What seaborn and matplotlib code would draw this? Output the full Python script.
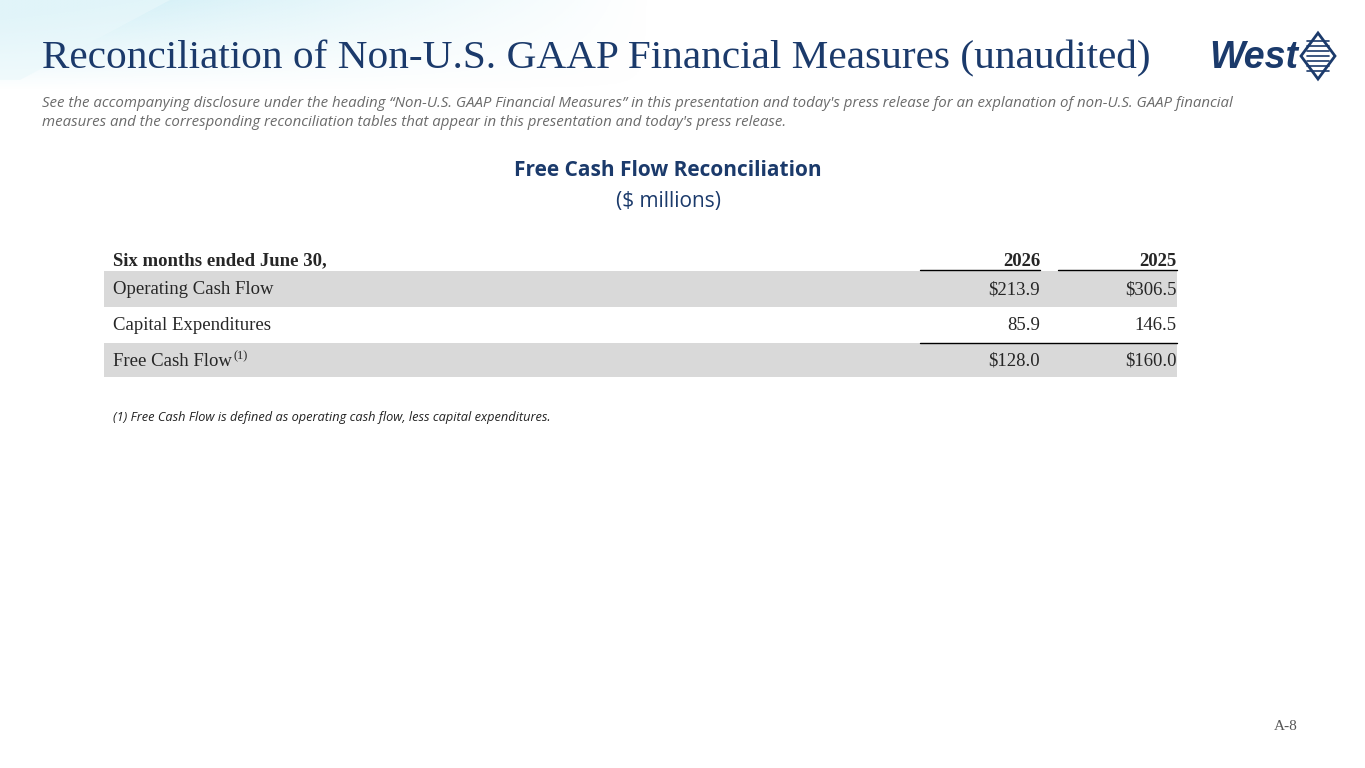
import matplotlib
matplotlib.use("Agg")
import matplotlib.pyplot as plt
import seaborn as sns
import numpy as np
from matplotlib.patches import Rectangle, Polygon

sns.set_theme(style="white")

title = "Reconciliation of Non-U.S. GAAP Financial Measures (unaudited)"
subtitle = ("See the accompanying disclosure under the heading \u201cNon-U.S. GAAP Financial Measures\u201d in this presentation and today's press release for an explanation of non-U.S. GAAP financial\n"
            "measures and the corresponding reconciliation tables that appear in this presentation and today's press release.")
table_title = "Free Cash Flow Reconciliation"
table_unit = "($ millions)"
header_label = "Six months ended June 30,"
years = ["2026", "2025"]
row_labels = ["Operating Cash Flow", "Capital Expenditures", "Free Cash Flow"]
vals_2026 = ["$213.9", "85.9", "$128.0"]
vals_2025 = ["$306.5", "146.5", "$160.0"]
row_shaded = [True, False, True]
footnote = "(1) Free Cash Flow is defined as operating cash flow, less capital expenditures."
page = "A-8"

NAVY = "#1b3a6b"
fig = plt.figure(figsize=(13.65, 7.68), dpi=100)
ax = fig.add_axes([0, 0, 1, 1])
ax.axis("off")

xs = np.linspace(0, 1, 300)
ys = np.linspace(0, 1, 60)
X, Y = np.meshgrid(xs, ys)
alpha = np.clip((1 - X) * (1 - Y) * 1.2, 0, 1)
rgba = np.zeros((60, 300, 4))
rgba[..., 0] = 0xd4 / 255; rgba[..., 1] = 0xf0 / 255; rgba[..., 2] = 0xf7 / 255
rgba[..., 3] = alpha
ax.imshow(rgba, extent=(0, 650, 90, 0), aspect="auto", zorder=0, origin="upper")
ax.add_patch(Polygon([[0, 0], [170, 0], [20, 80], [0, 80]], color="#eaf8fb", alpha=0.6, zorder=1, lw=0))
ax.set_xlim(0, 1365); ax.set_ylim(768, 0)

ax.text(42, 59, title, fontsize=29.7, family="Liberation Serif", color=NAVY, va="center", zorder=3)
ax.text(1298, 58, "West", fontsize=27, weight="bold", style="italic", family="Liberation Sans", color=NAVY, va="center", ha="right")
ax.add_patch(Polygon([[1318, 33], [1335, 56], [1318, 79], [1301, 56]], closed=True, fc="white", ec=NAVY, lw=2))
for k in range(-3, 4):
    ax.plot([1307, 1329], [56 + k * 5, 56 + k * 5], color=NAVY, lw=1.2, clip_on=False)
ax.text(42, 113, subtitle, fontsize=10.8, style="italic", family="Open Sans", color="#6b6b6b", va="center", linespacing=1.45)

ax.text(668, 171, table_title, fontsize=15, weight="bold", family="Open Sans", color=NAVY, ha="center", va="center")
ax.text(668, 202, table_unit, fontsize=15, family="Open Sans", color=NAVY, ha="center", va="center")

ax.text(113, 261, header_label, fontsize=13.5, weight="bold", family="Liberation Serif", va="center")
col_x = [1040, 1177]
for x, y in zip(col_x, years):
    ax.text(x, 261, y, fontsize=13.5, weight="bold", family="Liberation Serif", ha="right", va="center")
ax.plot([920, 1040], [270, 270], color="black", lw=1)
ax.plot([1058, 1177], [270, 270], color="black", lw=1)

row_top = [271, 307, 343]
row_h = [36, 36, 34]
for i, lab in enumerate(row_labels):
    yc = row_top[i] + row_h[i] / 2 + 1
    if row_shaded[i]:
        ax.add_patch(Rectangle((104, row_top[i]), 1073, row_h[i], color="#d9d9d9", lw=0, zorder=1))
    ax.text(113, yc, lab, fontsize=13.5, family="Liberation Serif", va="center", zorder=3)
    if i == 2:
        ax.text(234, yc - 5, "(1)", fontsize=9, family="Liberation Serif", va="center", zorder=3)
    ax.text(col_x[0], yc, vals_2026[i], fontsize=13.5, family="Liberation Serif", ha="right", va="center", zorder=3)
    ax.text(col_x[1], yc, vals_2025[i], fontsize=13.5, family="Liberation Serif", ha="right", va="center", zorder=3)
ax.plot([920, 1177], [343, 343], color="black", lw=1, zorder=4)

ax.text(113, 418, footnote, fontsize=9.2, style="italic", family="Open Sans", color="#222222", va="center")
ax.text(1298, 727, page, fontsize=11, family="Liberation Serif", color="#555555", ha="right", va="center")

fig.savefig("out.png", dpi=100)
